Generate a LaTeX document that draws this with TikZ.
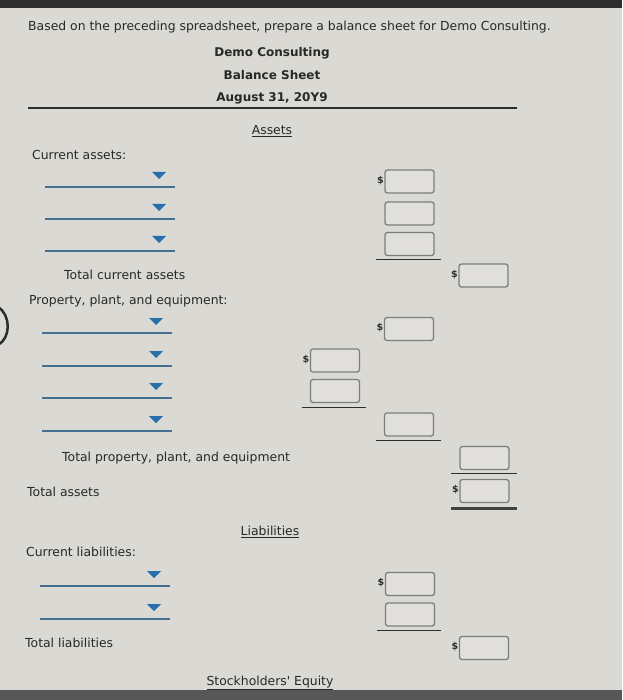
\documentclass[tikz,border=0pt]{standalone}
\usepackage{fontspec}
\setmainfont{DejaVu Sans}
\usetikzlibrary{calc}
\definecolor{bg}{RGB}{218,217,212}
\definecolor{dark}{RGB}{45,45,45}
\definecolor{ink}{RGB}{40,40,40}
\definecolor{ddblue}{RGB}{70,110,145}
\definecolor{triblue}{RGB}{40,110,170}
\definecolor{boxc}{RGB}{125,125,122}
\definecolor{boxf}{RGB}{224,223,219}
\begin{document}
\begin{tikzpicture}[x=1pt,y=-1pt,
  txt/.style={anchor=west,inner sep=0pt,text=ink,font=\fontsize{12.4}{14}\selectfont},
  head/.style={inner sep=0pt,text=ink,font=\fontsize{12}{14}\selectfont\bfseries},
  sect/.style={inner sep=0pt,text=ink,font=\fontsize{12.4}{14}\selectfont},
  ansbox/.style={draw=boxc,line width=1.3pt,rounded corners=2.5pt,fill=boxf,
    minimum width=49pt,minimum height=23pt,inner sep=0pt},
  dollar/.style={anchor=east,inner sep=0.5pt,text=dark,font=\fontsize{9.5}{10}\selectfont\bfseries},
  rule/.style={draw=dark,line width=1pt},
  ddline/.style={draw=ddblue,line width=1.4pt},
  tri/.style={fill=triblue},
  dropdown/.pic={
    \draw[ddline] (0,0) -- (130,0);
    \fill[tri] (107,-15) -- (121,-15) -- (114,-8) -- cycle;
  }]
\fill[bg] (0,0) rectangle (622,700);
\useasboundingbox (0,0) rectangle (622,700);
\fill[dark] (0,0) rectangle (622,8);
\fill[dark!80] (0,690) rectangle (622,700);
\draw[dark,line width=2.5pt] (-2,307) .. controls (11,315) and (11,338) .. (-2,345);

% heading
\node[txt] (intro) at (28,27) {Based on the preceding spreadsheet, prepare a balance sheet for Demo Consulting.};
\node[head] (co) at (272,53) {Demo Consulting};
\node[head] (bs) at (272,75) {Balance Sheet};
\node[head] (dt) at (272,98) {August 31, 20Y9};
\draw[dark,line width=1.8pt] (28,108) -- (517,108);
\node[sect] (assets) at (272,131) {\underline{Assets}};

% current assets
\node[txt] (ca) at (32,155) {Current assets:};
\pic (dd1) at (45,187) {dropdown};
\pic (dd2) at (45,219) {dropdown};
\pic (dd3) at (45,251) {dropdown};
\node[ansbox] (ca1) at (409.5,181.5) {};
\node[ansbox] (ca2) at (409.5,213.5) {};
\node[ansbox] (ca3) at (409.5,244) {};
\node[dollar] at ([yshift=1pt]ca1.west) {\$};
\draw[rule] ($(ca3.south west)+(-8,3)$) -- ($(ca3.south east)+(6,3)$);
\node[txt] (tcal) at (64,275) {Total current assets};
\node[ansbox] (tca) at (483.5,275.5) {};
\node[dollar] at ([yshift=1pt]tca.west) {\$};

% property plant and equipment
\node[txt] (ppe) at (29,301) {Property, plant, and equipment:};
\pic (dd4) at (42,333) {dropdown};
\pic (dd5) at (42,366) {dropdown};
\pic (dd6) at (42,398) {dropdown};
\pic (dd7) at (42,431) {dropdown};
\node[ansbox] (p1) at (409,329) {};
\node[dollar] at ([yshift=1pt]p1.west) {\$};
\node[ansbox] (p2) at (335,360.5) {};
\node[dollar] at ([yshift=1pt]p2.west) {\$};
\node[ansbox] (p3) at (335,391) {};
\draw[rule] ($(p3.south west)+(-8,4)$) -- ($(p3.south east)+(6,4)$);
\node[ansbox] (p4) at (409,424.5) {};
\draw[rule] ($(p4.south west)+(-8,4)$) -- ($(p4.south east)+(7,4)$);
\node[txt] (tppel) at (62,458) {Total property, plant, and equipment};
\node[ansbox] (tppe) at (484.5,458) {};
\draw[rule] ($(tppe.south west)+(-8,3)$) -- ($(tppe.south east)+(7,3)$);
\node[txt] (tal) at (27,492) {Total assets};
\node[ansbox] (ta) at (484.5,491) {};
\node[dollar] at ([yshift=1pt]ta.west) {\$};
\draw[dark!90,line width=3pt] ($(ta.south west)+(-8,5)$) -- ($(ta.south east)+(7,5)$);

% liabilities
\node[sect] (liab) at (270,532) {\underline{Liabilities}};
\node[txt] (cl) at (26,552) {Current liabilities:};
\pic (dd8) at (40,586) {dropdown};
\pic (dd9) at (40,619) {dropdown};
\node[ansbox] (l1) at (410,584) {};
\node[dollar] at ([yshift=1pt]l1.west) {\$};
\node[ansbox] (l2) at (410,614.5) {};
\draw[rule] ($(l2.south west)+(-8,4)$) -- ($(l2.south east)+(6,4)$);
\node[txt] (tll) at (25,643) {Total liabilities};
\node[ansbox] (tl) at (484,648) {};
\node[dollar] at ([yshift=1pt]tl.west) {\$};

\node[sect] (se) at (270,683) {\underline{Stockholders\textquotesingle{} Equity}};
\end{tikzpicture}
\end{document}
